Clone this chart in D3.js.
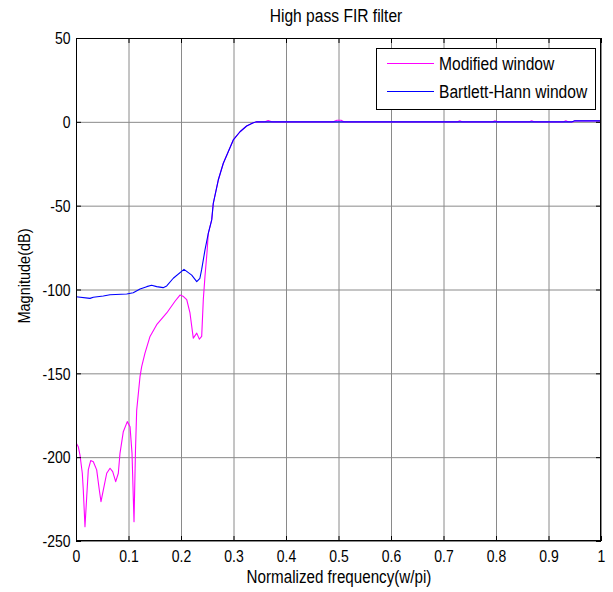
<!DOCTYPE html>
<html>
<head>
<meta charset="utf-8">
<script src="https://cdn.jsdelivr.net/npm/d3@7"></script>
<style>
  body { margin: 0; background: #fff; }
  svg { display: block; font-family: "Liberation Sans", Arial, sans-serif; }
</style>
</head>
<body>
<svg id="chart" width="613" height="592"></svg>
<script>
// tick values
const xTicks = [0, 0.1, 0.2, 0.3, 0.4, 0.5, 0.6, 0.7, 0.8, 0.9, 1];
const yTicks = [-250, -200, -150, -100, -50, 0, 50];

// Modified window response
const modFreq = [0, 0.0044, 0.0076, 0.012, 0.0139, 0.0171, 0.0204, 0.0234, 0.028, 0.033,
  0.0394, 0.0444, 0.0476, 0.052, 0.0585, 0.0648, 0.0699, 0.0756, 0.0806, 0.0838,
  0.0901, 0.0977, 0.1029, 0.1067, 0.1105, 0.1133, 0.1156, 0.1219, 0.1251, 0.1314,
  0.141, 0.1537, 0.1728, 0.1886, 0.198, 0.2038, 0.2109, 0.2171, 0.2234, 0.23,
  0.2349, 0.2394, 0.2425, 0.2457, 0.2495, 0.252, 0.2585, 0.2615, 0.271, 0.2806,
  0.29, 0.2996, 0.3124, 0.325, 0.3377, 0.344, 0.36, 0.366, 0.373, 0.49,
  0.497, 0.505, 0.51, 0.727, 0.731, 0.735, 0.794, 0.798, 0.802, 0.864,
  0.868, 0.872, 0.929, 0.933, 0.937, 0.947, 0.95, 1];
const modMag = [-191.4, -193.8, -198.7, -209.6, -219.6, -241.5, -223.6, -207.6, -202, -202.7,
  -207.6, -219.6, -226.5, -219.6, -209.6, -206.6, -208.6, -214.6, -209.6, -197.7,
  -184.8, -178.8, -181.8, -197.7, -238.5, -196, -172, -152, -146, -138,
  -128, -121, -114, -107, -103.3, -104, -106, -114, -129, -126,
  -129.6, -128, -106, -92, -78, -66.5, -58.5, -48.6, -34.7, -24.7,
  -17.8, -10.8, -5.9, -2.5, -0.5, 0, 0, 0.8, 0, 0,
  0.9, 0.9, 0, 0, 0.6, 0, 0, 0.6, 0, 0,
  0.6, 0, 0, 0.6, 0, 0, 0.6, 0.6];

// Bartlett-Hann window response
const bhFreq = [0, 0.0267, 0.033, 0.052, 0.0648, 0.0966, 0.109, 0.122, 0.1347, 0.144,
  0.1537, 0.166, 0.1728, 0.1853, 0.2057, 0.2204, 0.23, 0.236, 0.2394, 0.2457,
  0.252, 0.2585, 0.2615, 0.271, 0.2806, 0.29, 0.2996, 0.3124, 0.325, 0.3377,
  0.344, 0.945, 0.95, 1];
const bhMag = [-104.3, -105.3, -104.6, -103.9, -103.1, -102.7, -101.9, -99.7, -98.3, -97.5,
  -98.3, -98.9, -97.9, -93.3, -88, -91.4, -95.3, -93.3, -88, -76.4,
  -66.5, -58.5, -48.6, -34.7, -24.7, -17.8, -10.8, -5.9, -2.5, -0.5,
  0, 0, 0.6, 0.6];

const seriesNames = ["Modified window", "Bartlett-Hann window"];
const seriesColors = ["#ff00ff", "#0000ff"];

const plotL = 76, plotR = 601, plotT = 38, plotB = 541;
const stretch = 1.15; // text in the picture is a little tall
const gridColor = "#8a8a8a";

const x = d3.scaleLinear().domain([0, 1]).range([plotL, plotR]);
const y = d3.scaleLinear().domain([-250, 50]).range([plotB, plotT]);

const svg = d3.select("#chart");

svg.append("defs").append("clipPath").attr("id", "clip")
  .append("rect").attr("x", plotL).attr("y", plotT)
  .attr("width", plotR - plotL).attr("height", plotB - plotT);

// grid
svg.append("g")
  .attr("transform", `translate(0,${plotB})`)
  .call(d3.axisBottom(x).tickValues(xTicks).tickSize(-(plotB - plotT)).tickFormat(""))
  .call((g) => g.select(".domain").remove())
  .call((g) => g.selectAll("line").attr("stroke", gridColor));
svg.append("g")
  .attr("transform", `translate(${plotL},0)`)
  .call(d3.axisLeft(y).tickValues(yTicks).tickSize(-(plotR - plotL)).tickFormat(""))
  .call((g) => g.select(".domain").remove())
  .call((g) => g.selectAll("line").attr("stroke", gridColor));

// curves
const line = d3.line().x((d) => x(d[0])).y((d) => y(d[1]));
const series = [
  d3.zip(modFreq, modMag),
  d3.zip(bhFreq, bhMag),
];
svg.append("g").attr("clip-path", "url(#clip)")
  .selectAll("path")
  .data(series)
  .join("path")
  .attr("fill", "none")
  .attr("stroke", (d, i) => seriesColors[i])
  .attr("stroke-width", 1.1)
  .attr("stroke-linejoin", "round")
  .attr("d", line);

// inward ticks on all four sides
const tickLen = 5;
svg.append("g").attr("transform", `translate(0,${plotB})`)
  .call(d3.axisBottom(x).tickValues(xTicks).tickSize(-tickLen).tickPadding(0)
    .tickFormat((d) => String(d)))
  .call((g) => g.select(".domain").remove())
  .call((g) => g.selectAll("line").attr("stroke", "#000"))
  .call((g) => g.selectAll("text")
    .attr("font-size", 14).attr("fill", "#000")
    .attr("y", 0).attr("dy", 0)
    .attr("transform", `scale(1,${stretch}) translate(0,${21 / stretch})`));
svg.append("g").attr("transform", `translate(0,${plotT})`)
  .call(d3.axisTop(x).tickValues(xTicks).tickSize(-tickLen).tickFormat(""))
  .call((g) => g.select(".domain").remove())
  .call((g) => g.selectAll("line").attr("stroke", "#000"));
svg.append("g").attr("transform", `translate(${plotL},0)`)
  .call(d3.axisLeft(y).tickValues(yTicks).tickSize(-tickLen).tickPadding(0)
    .tickFormat((d) => String(d)))
  .call((g) => g.select(".domain").remove())
  .call((g) => g.selectAll("line").attr("stroke", "#000"))
  .call((g) => g.selectAll("text")
    .attr("font-size", 14).attr("fill", "#000")
    .attr("x", -5.5).attr("dy", 0).attr("y", 0)
    .attr("transform", `scale(1,${stretch}) translate(0,5)`));
svg.append("g").attr("transform", `translate(${plotR},0)`)
  .call(d3.axisRight(y).tickValues(yTicks).tickSize(-tickLen).tickFormat(""))
  .call((g) => g.select(".domain").remove())
  .call((g) => g.selectAll("line").attr("stroke", "#000"));

// frame
svg.append("rect")
  .attr("x", plotL + 0.5).attr("y", plotT + 0.5)
  .attr("width", plotR - plotL - 1).attr("height", plotB - plotT - 1)
  .attr("fill", "none").attr("stroke", "#000").attr("stroke-width", 1);

// texts
function label(txt, tx, ty, size, rotate) {
  svg.append("text")
    .attr("transform", `translate(${tx},${ty}) rotate(${rotate || 0}) scale(1,${stretch})`)
    .attr("text-anchor", "middle")
    .attr("font-size", size)
    .attr("fill", "#000")
    .text(txt);
}
label("High pass FIR filter", 336, 22, 15.6);
label("Normalized frequency(w/pi)", 339, 583, 15.2);
label("Magnitude(dB)", 30, 276, 14.5, -90);

// legend
const lg = svg.append("g");
lg.append("rect")
  .attr("x", 376.5).attr("y", 48.5).attr("width", 219).attr("height", 61)
  .attr("fill", "#fff").attr("stroke", "#000").attr("stroke-width", 1);
seriesNames.forEach((name, i) => {
  const ly = 63.5 + i * 28;
  lg.append("line")
    .attr("x1", 387).attr("x2", 434).attr("y1", ly).attr("y2", ly)
    .attr("stroke", seriesColors[i]).attr("stroke-width", 1);
  lg.append("text")
    .attr("transform", `translate(439,${ly + 6}) scale(1,${stretch})`)
    .attr("font-size", 15.6).attr("fill", "#000")
    .text(name);
});
</script>
</body>
</html>
